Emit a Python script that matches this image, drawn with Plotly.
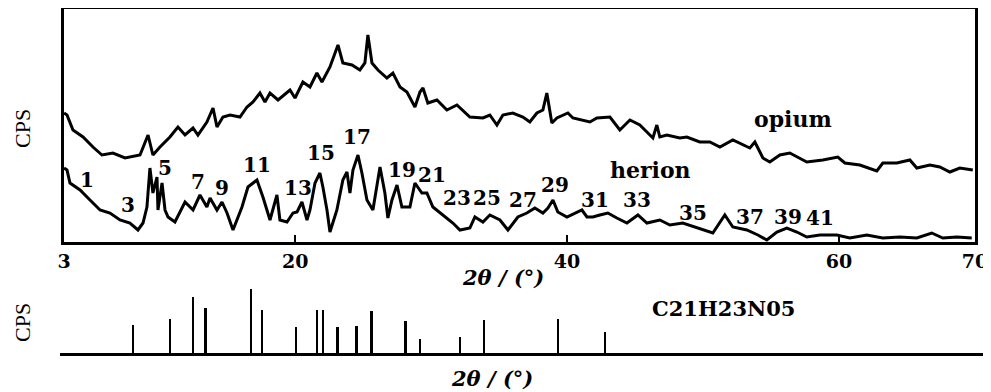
import plotly.graph_objects as go

# ---- data (2theta in degrees, intensity in arbitrary CPS units) ----
opium_2theta = [3.0, 3.22, 3.66, 4.40, 5.13, 5.79, 6.60, 7.49, 8.59, 9.18, 9.54, 10.06, 10.79, 11.38,
                11.90, 12.49, 12.85, 13.51, 13.96, 14.25, 14.69, 15.21, 15.94, 16.46, 16.90, 17.41,
                17.78, 18.15, 18.74, 19.62, 19.99, 20.57, 21.09, 21.60, 21.97, 22.56, 23.15, 23.51,
                24.18, 24.76, 25.13, 25.35, 25.65, 26.09, 26.75, 27.19, 27.71, 28.22, 28.81, 29.18,
                29.40, 29.76, 30.43, 31.16, 31.90, 32.85, 33.81, 34.32, 34.84, 35.28, 36.01, 36.75,
                37.26, 37.78, 38.22, 38.51, 38.88, 39.25, 40.06, 40.43, 41.68, 42.19, 43.15, 43.88,
                44.62, 45.35, 46.31, 46.60, 46.82, 47.34, 48.29, 48.81, 49.76, 50.50, 51.24, 52.19,
                53.44, 53.81, 54.40, 54.91, 55.65, 56.38, 57.63, 58.81, 59.91, 60.43, 61.53, 62.78,
                63.22, 64.25, 65.21, 65.72, 66.68, 67.41, 68.15, 68.88, 69.84]
opium_cps = [129, 127, 112, 105, 95, 87, 89, 84, 87, 107, 87, 95, 105, 115,
             107, 114, 107, 120, 134, 115, 125, 127, 125, 135, 140, 149,
             140, 149, 142, 152, 144, 160, 155, 169, 160, 175, 197, 179,
             177, 172, 179, 207, 179, 172, 164, 169, 155, 150, 135, 150,
             154, 139, 142, 132, 137, 125, 124, 127, 117, 127, 129, 125,
             120, 129, 132, 149, 119, 124, 129, 124, 120, 124, 125, 112,
             122, 117, 104, 117, 105, 107, 104, 105, 100, 100, 95, 102,
             94, 100, 84, 80, 87, 89, 80, 82, 85, 79, 77, 71,
             79, 79, 82, 74, 77, 75, 70, 74, 72]

herion_2theta = [3.0, 3.22, 3.44, 4.18, 4.91, 5.65, 6.38, 7.12, 7.85, 8.44, 8.81, 9.10, 9.32, 9.54,
                 9.84, 9.91, 10.21, 10.43, 10.65, 11.16, 11.90, 12.49, 13.00, 13.51, 13.74, 14.25,
                 14.62, 14.99, 15.43, 16.09, 16.53, 17.19, 17.63, 18.15, 18.66, 18.88, 19.40, 19.84,
                 20.14, 20.50, 20.87, 21.09, 21.46, 21.82, 22.04, 22.34, 22.56, 23.07, 23.51, 23.81,
                 24.03, 24.25, 24.62, 24.91, 25.28, 25.72, 26.24, 26.60, 26.82, 27.12, 27.49, 27.85,
                 28.44, 28.81, 29.32, 29.69, 30.13, 30.87, 31.60, 32.12, 32.85, 33.22, 33.81, 34.32,
                 35.06, 35.65, 36.38, 37.04, 37.63, 38.22, 38.59, 38.96, 39.32, 39.99, 40.57, 41.09,
                 41.46, 41.90, 42.41, 43.00, 43.66, 44.40, 45.21, 45.87, 46.82, 47.56, 48.51, 49.54,
                 50.72, 51.60, 52.19, 53.22, 54.03, 54.69, 55.43, 56.16, 56.90, 57.63, 58.59, 59.84,
                 60.79, 62.04, 63.22, 64.47, 65.72, 66.82, 67.63, 68.66, 69.76]
herion_cps = [74, 72, 59, 52, 42, 32, 29, 22, 19, 12, 19, 35, 74, 49,
              65, 32, 59, 32, 25, 20, 40, 32, 47, 35, 44, 32,
              40, 29, 12, 35, 55, 62, 45, 22, 47, 22, 20, 29,
              30, 40, 22, 32, 59, 69, 55, 32, 10, 32, 62, 70,
              49, 72, 87, 69, 42, 32, 75, 49, 24, 42, 57, 35,
              35, 59, 49, 49, 35, 27, 19, 12, 14, 25, 20, 27,
              22, 12, 25, 29, 34, 29, 34, 42, 30, 25, 29, 32,
              25, 25, 27, 29, 24, 19, 27, 19, 22, 17, 19, 14,
              9, 27, 15, 12, 7, 2, 10, 14, 10, 5, 7, 7,
              4, 7, 4, 5, 4, 9, 4, 5, 4]

# reference pattern C21H23NO5 (stick positions and heights)
ref_2theta = [8.07, 10.8, 12.5, 13.4, 16.75, 17.56, 20.06, 21.6, 22.05, 23.1, 24.5, 25.6,
              28.1, 29.2, 32.1, 33.9, 39.3, 42.8]
ref_int = [28, 34, 56, 45, 64, 43, 26, 43, 43, 26, 27, 42, 32, 14, 16, 33, 34, 21]

# peak numbering labels (position of each label)
peak_labels = ["1", "3", "5", "7", "9", "11", "13", "15", "17", "19", "21",
               "23", "25", "27", "29", "31", "33", "35", "37", "39", "41"]
peak_label_x = [4.69, 7.71, 10.43, 12.85, 14.62, 17.19, 20.21, 21.90, 24.54, 27.85, 30.06,
                31.90, 34.10, 36.75, 39.10, 42.04, 45.13, 49.25, 53.44, 56.24, 58.59]
peak_label_y = [62, 37, 74, 60, 54, 77, 54, 89, 105, 72, 67,
                44, 44, 42, 57, 42, 42, 29, 25, 25, 24]

x_ticks = [3, 20, 40, 60, 70]

# the page body has an 8 px margin, so the figure is drawn 8 px in from the window corner
OFF = 8
W, H = 991 - OFF, 392 - OFF
serif = "DejaVu Serif"


def fx(px):
    return (px - OFF) / W


def fy(py):
    return 1 - (py - OFF) / H


fig = go.Figure()
fig.add_trace(go.Scatter(x=opium_2theta, y=opium_cps, mode="lines",
                         line=dict(color="black", width=3), xaxis="x", yaxis="y",
                         showlegend=False, hoverinfo="skip"))
fig.add_trace(go.Scatter(x=herion_2theta, y=herion_cps, mode="lines",
                         line=dict(color="black", width=3), xaxis="x", yaxis="y",
                         showlegend=False, hoverinfo="skip"))
fig.add_trace(go.Bar(x=ref_2theta, y=ref_int, width=0.17, marker=dict(color="black", line=dict(width=0)),
                     xaxis="x2", yaxis="y2", showlegend=False, hoverinfo="skip"))

C = dict(xanchor="center", yanchor="middle", showarrow=False)
ann = []
for t, x, y in zip(peak_labels, peak_label_x, peak_label_y):
    ann.append(dict(x=x, y=y, xref="x", yref="y", text=t, **C,
                    font=dict(family=serif, size=20, color="black", weight=600)))
ann.append(dict(x=56.6, y=123, xref="x", yref="y", text="opium", **C,
                font=dict(family=serif, size=22, color="black", weight="bold")))
ann.append(dict(x=46.1, y=72, xref="x", yref="y", text="herion", **C,
                font=dict(family=serif, size=22, color="black", weight="bold")))
ann.append(dict(x=fx(723), y=fy(308), xref="paper", yref="paper", text="C21H23N05", **C,
                font=dict(family=serif, size=21, color="black", weight="bold")))
ann.append(dict(x=fx(503), y=fy(277), xref="paper", yref="paper", text="2θ / (°)", **C,
                font=dict(family=serif, size=21, color="black", weight="bold", style="italic")))
ann.append(dict(x=fx(492), y=fy(378), xref="paper", yref="paper", text="2θ / (°)", **C,
                font=dict(family=serif, size=21, color="black", weight="bold", style="italic")))
ann.append(dict(x=fx(22), y=fy(129), xref="paper", yref="paper", text="CPS", textangle=-90, **C,
                font=dict(family="Liberation Serif", size=22, color="black")))
ann.append(dict(x=fx(22), y=fy(323), xref="paper", yref="paper", text="CPS", textangle=-90, **C,
                font=dict(family="Liberation Serif", size=22, color="black")))

fig.update_layout(
    width=W, height=H, margin=dict(l=0, r=0, t=0, b=0, autoexpand=False),
    paper_bgcolor="white", plot_bgcolor="white",
    bargap=0,
    xaxis=dict(domain=[fx(64), fx(975)], range=[3, 70], tickvals=x_ticks, automargin=False,
               ticktext=[str(v) for v in x_ticks], ticks="inside", ticklen=7, tickwidth=2,
               tickcolor="black", showline=True, mirror=True, linecolor="black", linewidth=3,
               showgrid=False, zeroline=False,
               tickfont=dict(family=serif, size=19, color="black", weight="bold"), anchor="y"),
    yaxis=dict(domain=[fy(242), fy(9)], range=[0, 233], showticklabels=False, automargin=False,
               ticks="", showline=True, mirror=True, linecolor="black", linewidth=3,
               showgrid=False, zeroline=False, anchor="x"),
    xaxis2=dict(domain=[fx(60), fx(984)], range=[2.706, 70.65], showticklabels=False, automargin=False,
                ticks="", showline=True, linecolor="black", linewidth=3, showgrid=False,
                zeroline=False, anchor="y2"),
    yaxis2=dict(domain=[fy(353), fy(280)], range=[0, 73], visible=False, anchor="x2",
                automargin=False),
    annotations=ann,
)

fig.write_html("out.html")
